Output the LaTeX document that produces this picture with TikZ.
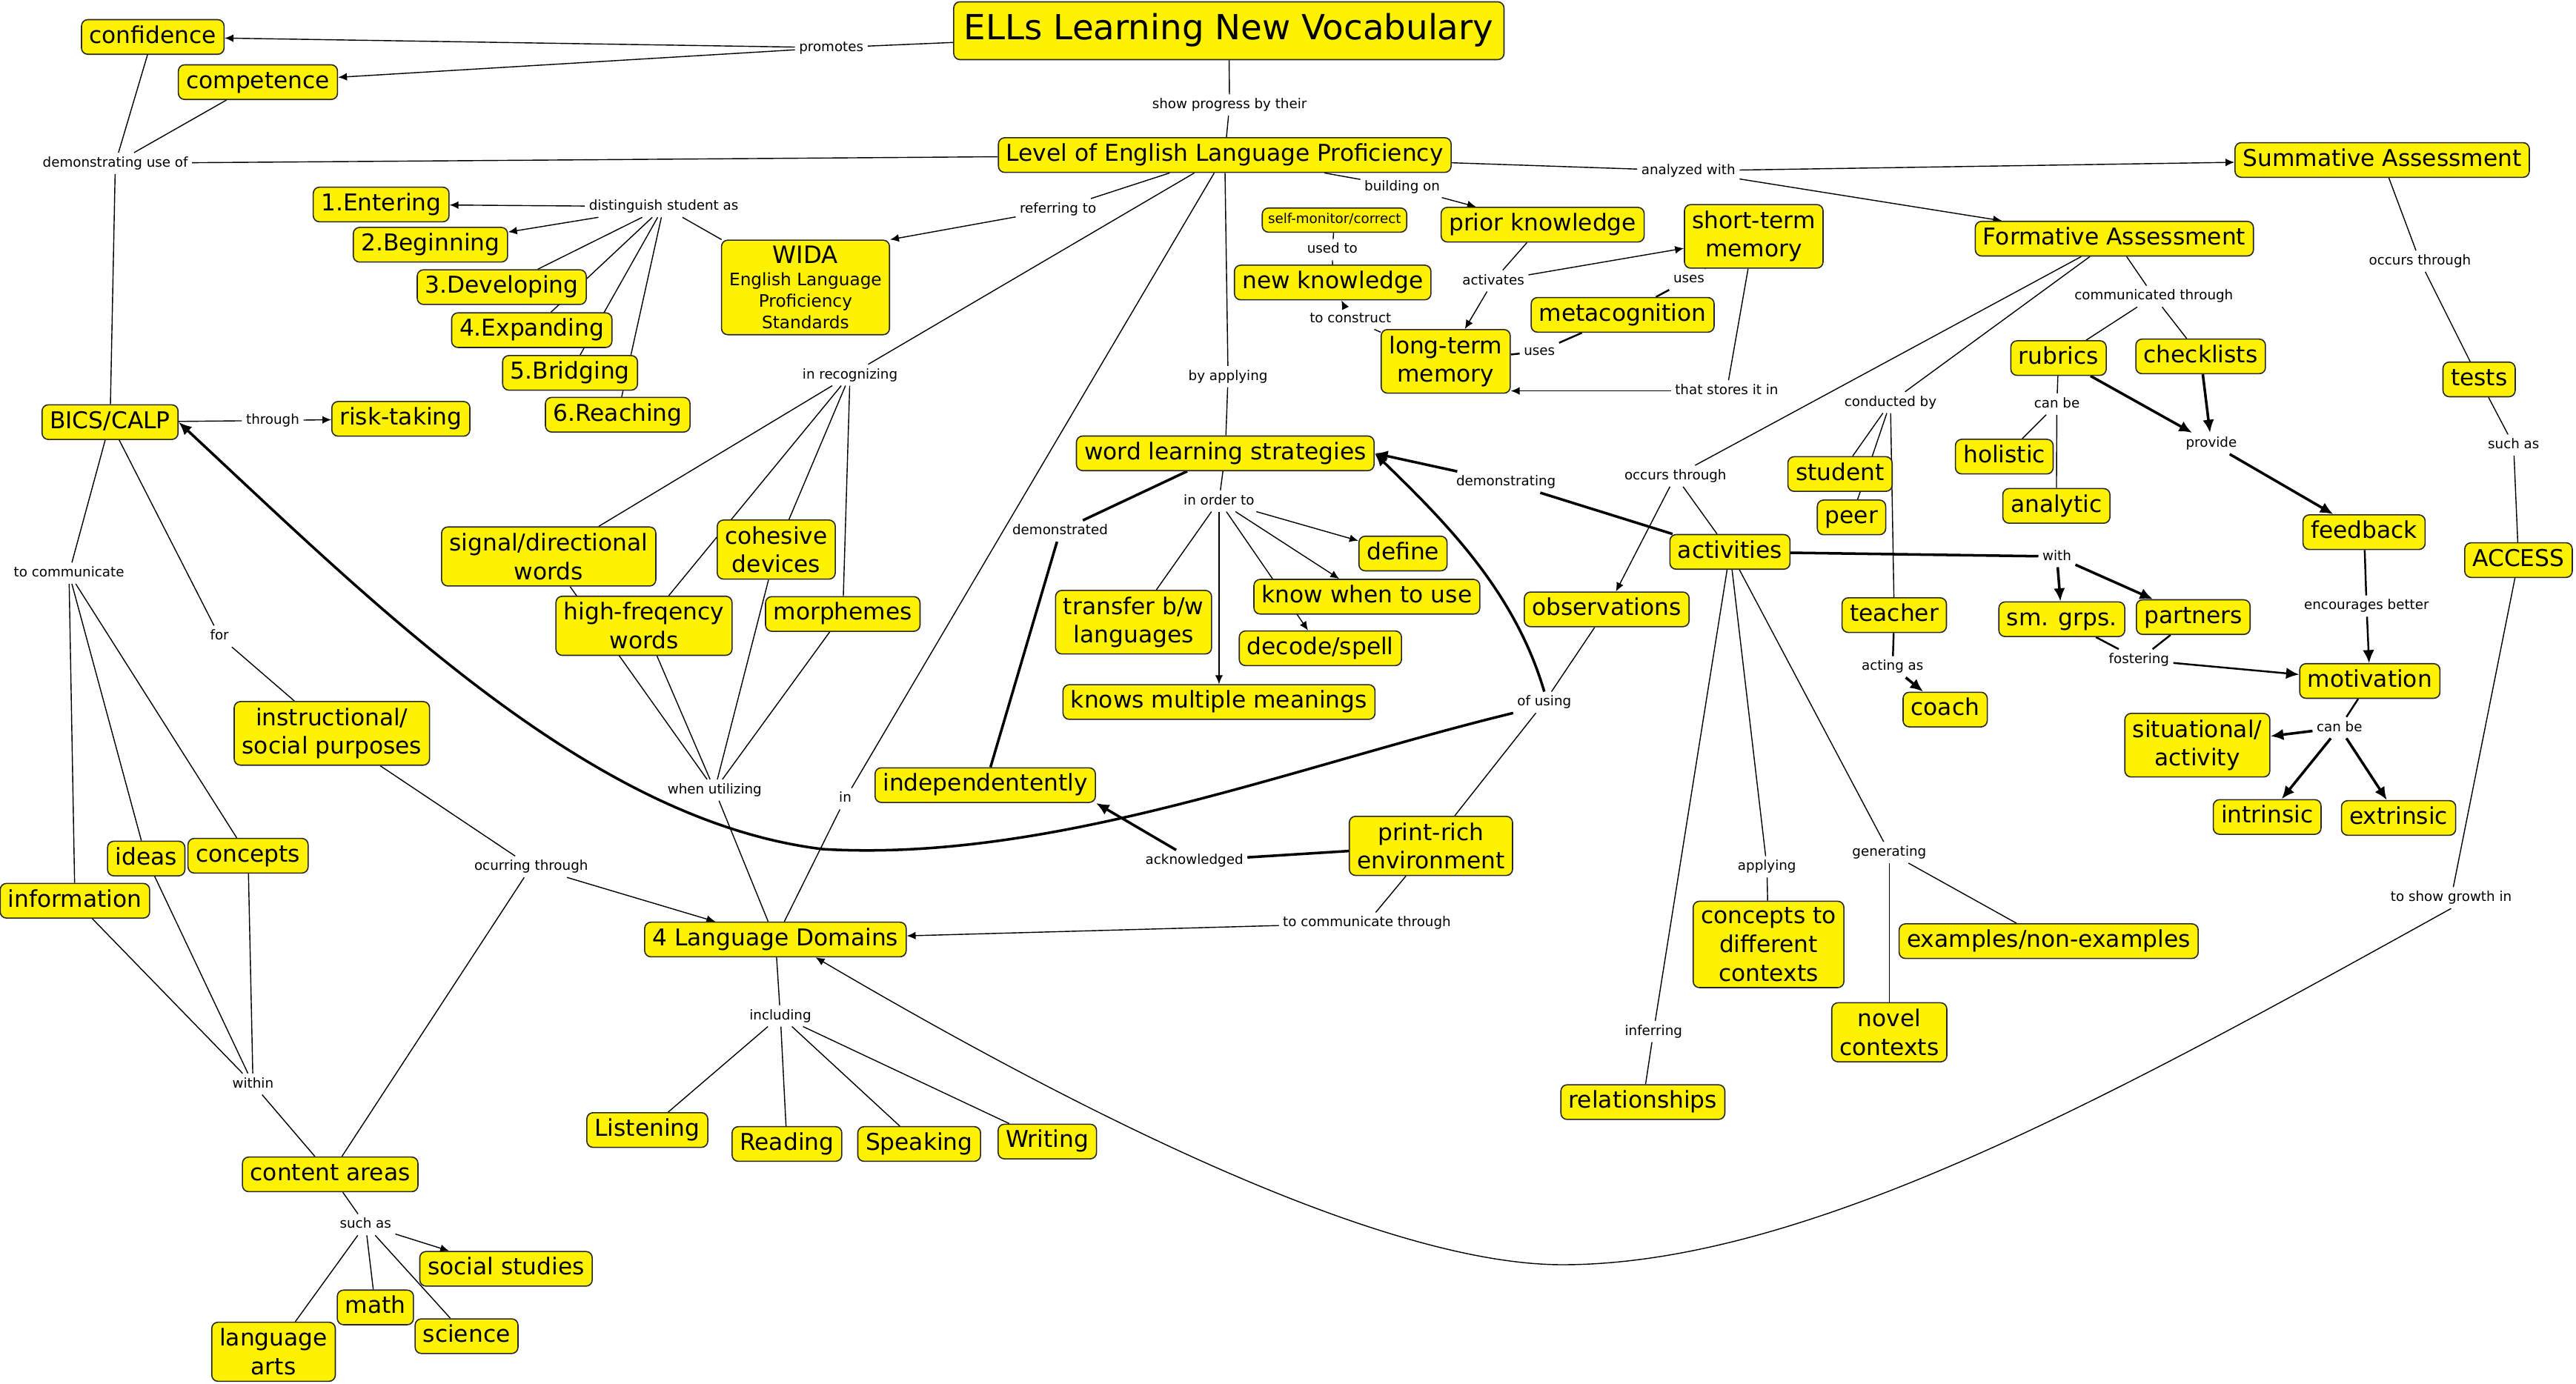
\documentclass[tikz,border=0pt]{standalone}
\usepackage{fontspec}
\setmainfont{DejaVu Sans}
\usetikzlibrary{arrows.meta}
\pgfdeclarelayer{bg}
\pgfsetlayers{bg,main}
\tikzset{
  cbase/.style={draw=black!85, line width=0.45pt, fill=yellow, rounded corners=2.4pt, inner xsep=3pt},
  cn/.style={cbase, inner ysep=2.4pt, font=\fontsize{8.9}{11}\selectfont, text height=6.6pt, text depth=1.9pt},
  cmulti/.style={cbase, inner ysep=2.4pt, align=center, font=\fontsize{8.9}{11}\selectfont},
  lk/.style={font=\fontsize{5.2}{6.2}\selectfont, inner sep=1.4pt, text height=3.9pt, text depth=1.1pt},
  ln/.style={line width=0.4pt},
  md/.style={line width=0.7pt},
  tk/.style={line width=1pt},
  arthin/.style={-{Latex[length=3.4pt,width=3pt]}},
  arthick/.style={-{Latex[length=5pt,width=4.4pt]}},
}
\begin{document}
\begin{tikzpicture}[x=0.022168cm,y=-0.022168cm]
\useasboundingbox (0,0) rectangle (1568,842.2);
\begin{pgfonlayer}{bg}
\fill[white] (0,0) rectangle (1568,842.2);
\end{pgfonlayer}
% ---------- concepts
\node[cbase, inner xsep=4pt, inner ysep=4.6pt, font=\fontsize{13.3}{15}\selectfont, text height=9.9pt, text depth=3.1pt] (title) at (748,18.7) {ELLs Learning New Vocabulary};
\node[cn] (conf) at (93,22.5) {confidence};
\node[cn] (comp) at (157,50) {competence};
\node[cn] (lep) at (745.5,94.4) {Level of English Language Proficiency};
\node[cn] (summ) at (1450,97.4) {Summative Assessment};
\node[cn] (form) at (1287,145.3) {Formative Assessment};
\node[cn] (ent) at (232,124.5) {1.Entering};
\node[cn] (beg) at (262,149) {2.Beginning};
\node[cn] (dev) at (305.4,174.8) {3.Developing};
\node[cn] (expd) at (323.7,201) {4.Expanding};
\node[cn] (bri) at (347,227) {5.Bridging};
\node[cn] (reach) at (376,252.5) {6.Reaching};
\node[cbase, align=center, inner ysep=2.3pt, font=\fontsize{6.6}{8.3}\selectfont] (wida) at (490.3,175) {{\fontsize{9.2}{10}\selectfont WIDA}\\English Language\\Proficiency\\Standards};
\node[cbase, inner xsep=2.2pt, inner ysep=2.1pt, font=\fontsize{5.2}{6.2}\selectfont, text height=3.9pt, text depth=1.2pt] (selfm) at (812.3,134) {self-monitor/correct};
\node[cn] (prior) at (939,136.8) {prior knowledge};
\node[cmulti] (stm) at (1067.5,143.9) {short-term\\memory};
\node[cn] (newk) at (811.2,172) {new knowledge};
\node[cn] (meta) at (987.7,191.7) {metacognition};
\node[cmulti] (ltm) at (880,220) {long-term\\memory};
\node[cn] (rub) at (1253,218) {rubrics};
\node[cn] (chk) at (1339.5,217) {checklists};
\node[cn] (tests) at (1509,231) {tests};
\node[cn] (bics) at (67,257) {BICS/CALP};
\node[cn] (risk) at (244,255) {risk-taking};
\node[cn] (wls) at (745.8,276) {word learning strategies};
\node[cn] (hol) at (1220,278) {holistic};
\node[cn] (ana) at (1251.7,308) {analytic};
\node[cn] (stu) at (1120,288.6) {student};
\node[cn] (peer) at (1127,315) {peer};
\node[cn] (feed) at (1439,324) {feedback};
\node[cn] (access) at (1533,341) {ACCESS};
\node[cmulti] (sig) at (334,338.8) {signal/directional\\words};
\node[cmulti] (coh) at (472.5,334.6) {cohesive\\devices};
\node[cn] (def) at (854,337) {define};
\node[cn] (act) at (1053,336) {activities};
\node[cmulti] (high) at (392,381) {high-freqency\\words};
\node[cn] (morph) at (513,373.8) {morphemes};
\node[cmulti] (trans) at (690,378.8) {transfer b/w\\languages};
\node[cn] (know) at (832,363.3) {know when to use};
\node[cn] (dec) at (803.7,394.7) {decode/spell};
\node[cn] (obs) at (978,371) {observations};
\node[cn] (teach) at (1153,374.5) {teacher};
\node[cn] (sm) at (1255,377) {sm. grps.};
\node[cn] (part) at (1335,375.7) {partners};
\node[cn] (mot) at (1442.5,414.6) {motivation};
\node[cn] (kmm) at (742,427.4) {knows multiple meanings};
\node[cn] (coach) at (1184,432) {coach};
\node[cmulti] (sit) at (1337.5,453.7) {situational/\\activity};
\node[cmulti] (instr) at (202,446.5) {instructional/\\social purposes};
\node[cn] (indep) at (599.7,478) {independentently};
\node[cn] (intr) at (1380,497.4) {intrinsic};
\node[cn] (extr) at (1460,498) {extrinsic};
\node[cmulti] (print) at (871,515) {print-rich\\environment};
\node[cn] (ideas) at (89,522.7) {ideas};
\node[cn] (conc) at (151,521) {concepts};
\node[cn] (info) at (45.6,548.4) {information};
\node[cmulti] (ctx) at (1076.5,575) {concepts to\\different\\contexts};
\node[cn] (exm) at (1247,573) {examples/non-examples};
\node[cn] (ld) at (472,572) {4 Language Domains};
\node[cmulti] (nov) at (1150,628.5) {novel\\contexts};
\node[cn] (rel) at (1000,671) {relationships};
\node[cn] (lis) at (394,688) {Listening};
\node[cn] (read) at (479,696.5) {Reading};
\node[cn] (spk) at (559.5,696.5) {Speaking};
\node[cn] (wri) at (637.5,695) {Writing};
\node[cn] (ca) at (201,715) {content areas};
\node[cn] (ss) at (308,772.5) {social studies};
\node[cn] (math) at (228.5,796) {math};
\node[cn] (sci) at (284,813.5) {science};
\node[cmulti] (la) at (166.5,823) {language\\arts};
% ---------- linking phrases
\node[lk] (l_prom) at (506,29) {promotes};
\node[lk] (l_show) at (748.4,63.9) {show progress by their};
\node[lk] (l_demuse) at (70.2,99.4) {demonstrating use of};
\node[lk] (l_dist) at (404,125.8) {distinguish student as};
\node[lk] (l_ref) at (644,127.4) {referring to};
\node[lk] (l_build) at (853.5,113.8) {building on};
\node[lk] (l_anal) at (1027.7,104) {analyzed with};
\node[lk] (l_used) at (811,152) {used to};
\node[lk] (l_act) at (909,171) {activates};
\node[lk] (l_uses1) at (1028,170) {uses};
\node[lk] (l_cons) at (822,194) {to construct};
\node[lk] (l_uses2) at (937,214) {uses};
\node[lk] (l_store) at (1051,238) {that stores it in};
\node[lk] (l_occ1) at (1473,159) {occurs through};
\node[lk] (l_comm) at (1311,180.4) {communicated through};
\node[lk] (l_recog) at (517.4,228.3) {in recognizing};
\node[lk] (l_apply) at (747.5,229.3) {by applying};
\node[lk] (l_cond) at (1150.7,245) {conducted by};
\node[lk] (l_canbe1) at (1252,246) {can be};
\node[lk] (l_thr) at (166,256) {through};
\node[lk] (l_prov) at (1346,270) {provide};
\node[lk] (l_such1) at (1530,271) {such as};
\node[lk] (l_demng) at (916.7,293.5) {demonstrating};
\node[lk] (l_occ2) at (1019.8,289.8) {occurs through};
\node[lk] (l_order) at (742,305) {in order to};
\node[lk] (l_demd) at (645.3,323.3) {demonstrated};
\node[lk] (l_with) at (1252,338.8) {with};
\node[lk] (l_tocomm) at (42,349) {to communicate};
\node[lk] (l_enc) at (1440.5,369) {encourages better};
\node[lk] (l_for) at (133.6,387.4) {for};
\node[lk] (l_fost) at (1302,401.7) {fostering};
\node[lk] (l_acting) at (1152,406) {acting as};
\node[lk] (l_using) at (940,427.6) {of using};
\node[lk] (l_canbe2) at (1424,443) {can be};
\node[lk] (l_util) at (435,481) {when utilizing};
\node[lk] (l_in) at (514.5,486.3) {in};
\node[lk] (l_gen) at (1150,519) {generating};
\node[lk] (l_ack) at (727,524) {acknowledged};
\node[lk] (l_ocur) at (323.3,527.7) {ocurring through};
\node[lk] (l_applying) at (1075.5,527.8) {applying};
\node[lk] (l_growth) at (1492,546.6) {to show growth in};
\node[lk] (l_tct) at (832,562) {to communicate through};
\node[lk] (l_incl) at (475,618.5) {including};
\node[lk] (l_inf) at (1006.5,628) {inferring};
\node[lk] (l_within) at (154,660) {within};
\node[lk] (l_such2) at (222.5,745.6) {such as};
\coordinate (cvA) at (501,517);
\coordinate (cvB) at (951,770);
% ---------- connectors
\begin{pgfonlayer}{bg}
\draw[ln] (title) -- (l_prom);
\draw[ln,arthin] (l_prom) -- (conf);
\draw[ln,arthin] (l_prom) -- (comp);
\draw[ln] (title) -- (l_show);
\draw[ln] (l_show) -- (lep);
\draw[ln] (conf) -- (l_demuse);
\draw[ln] (comp) -- (l_demuse);
\draw[ln] (lep) -- (l_demuse);
\draw[ln] (l_demuse) -- (bics);
\draw[ln] (wida) -- (l_dist);
\draw[ln,arthin] (l_dist) -- (ent);
\draw[ln,arthin] (l_dist) -- (beg);
\foreach \t in {dev,expd,bri,reach} \draw[ln] (l_dist) -- (\t);
\draw[ln] (lep) -- (l_ref);
\draw[ln,arthin] (l_ref) -- (wida.north east);
\draw[ln] (lep) -- (l_build);
\draw[ln,arthin] (l_build) -- (prior);
\draw[ln] (lep) -- (l_anal);
\draw[ln,arthin] (l_anal) -- (summ);
\draw[ln,arthin] (l_anal) -- (form);
\draw[ln] (selfm) -- (l_used);
\draw[ln] (l_used) -- (newk);
\draw[ln] (prior) -- (l_act);
\draw[ln,arthin] (l_act) -- (stm);
\draw[ln,arthin] (l_act) -- (ltm);
\draw[md] (stm) -- (l_uses1);
\draw[md] (l_uses1) -- (meta);
\draw[md] (meta) -- (l_uses2);
\draw[md] (l_uses2) -- (ltm);
\draw[ln] (ltm) -- (l_cons);
\draw[ln,arthin] (l_cons) -- (newk);
\draw[ln] (stm) -- (l_store);
\draw[ln,arthin] (l_store.west) -- (ltm.east |- l_store.west);
\draw[ln] (lep) -- (l_recog);
\foreach \t in {sig,high,coh,morph} \draw[ln] (l_recog) -- (\t);
\draw[ln] (lep) -- (l_apply);
\draw[ln] (l_apply) -- (wls);
\foreach \s in {sig,high,coh,morph} \draw[ln] (\s) -- (l_util);
\draw[ln] (l_util) -- (ld);
\draw[ln] (lep) -- (l_in);
\draw[ln] (l_in) -- (ld);
\draw[ln] (bics) -- (l_thr);
\draw[ln,arthin] (l_thr) -- (risk);
\draw[ln] (bics) -- (l_tocomm);
\foreach \t in {info,ideas,conc} \draw[ln] (l_tocomm) -- (\t);
\foreach \s in {info,ideas,conc} \draw[ln] (\s) -- (l_within);
\draw[ln] (l_within) -- (ca);
\draw[ln] (bics) -- (l_for);
\draw[ln] (l_for) -- (instr);
\draw[ln] (instr) -- (l_ocur);
\draw[ln,arthin] (l_ocur) -- (ld);
\draw[ln] (l_ocur) -- (ca);
\draw[ln] (ca) -- (l_such2);
\draw[ln,arthin] (l_such2) -- (ss);
\foreach \t in {math,sci,la} \draw[ln] (l_such2) -- (\t);
\draw[ln] (ld) -- (l_incl);
\foreach \t in {lis,read,spk,wri} \draw[ln] (l_incl) -- (\t);
\draw[ln] (wls) -- (l_order);
\draw[ln,arthin] (l_order) -- (def);
\draw[ln,arthin] (l_order) -- (know);
\draw[ln,arthin] (l_order) -- (dec);
\draw[ln,arthin] (l_order) -- (kmm);
\draw[ln] (l_order) -- (trans);
\draw[tk] (wls) -- (l_demd);
\draw[tk] (l_demd) -- (indep);
\draw[tk] (act) -- (l_demng);
\draw[tk,arthick] (l_demng) -- (wls.east);
\draw[ln] (form) -- (l_occ2);
\draw[ln,arthin] (l_occ2) -- (obs);
\draw[ln] (l_occ2) -- (act);
\draw[ln] (form) -- (l_cond);
\foreach \t in {stu,peer,teach} \draw[ln] (l_cond) -- (\t);
\draw[md] (teach) -- (l_acting);
\draw[tk,arthick] (l_acting) -- (coach);
\draw[ln] (obs) -- (l_using);
\draw[ln] (print) -- (l_using);
\draw[tk,arthick] (l_using.north) .. controls (922,360) and (880,318) .. (wls.east);
\draw[tk,arthick] (l_using.south west) .. controls (786,467) and (641,525) .. (cvA) .. controls (360,500) and (230,370) .. (bics.east);
\draw[ln] (summ) -- (l_occ1);
\draw[ln] (l_occ1) -- (tests);
\draw[ln] (tests) -- (l_such1);
\draw[ln] (l_such1) -- (access);
\draw[ln] (access) -- (l_growth);
\draw[ln,arthin] (l_growth.south) .. controls (1290,665) and (1101,770) .. (cvB) .. controls (840,770) and (653,675) .. (ld.-24);
\draw[ln] (print) -- (l_tct);
\draw[ln,arthin] (l_tct) -- (ld);
\draw[tk] (print) -- (l_ack);
\draw[tk,arthick] (l_ack) -- (indep.south east);
\draw[ln] (act) -- (l_applying);
\draw[ln] (l_applying) -- (ctx);
\draw[ln] (act) -- (l_gen);
\draw[ln] (l_gen) -- (exm);
\draw[ln] (l_gen) -- (nov);
\draw[ln] (act) -- (l_inf);
\draw[ln] (l_inf) -- (rel);
\draw[tk] (act) -- (l_with);
\draw[tk,arthick] (l_with) -- (sm);
\draw[tk,arthick] (l_with) -- (part);
\draw[md] (sm) -- (l_fost);
\draw[md] (part) -- (l_fost);
\draw[md,arthick] (l_fost) -- (mot);
\draw[ln] (form) -- (l_comm);
\draw[ln] (l_comm) -- (rub);
\draw[ln] (l_comm) -- (chk);
\draw[ln] (rub) -- (l_canbe1);
\draw[ln] (l_canbe1) -- (hol);
\draw[ln] (l_canbe1) -- (ana);
\draw[tk,arthick] (rub) -- (l_prov);
\draw[tk,arthick] (chk) -- (l_prov);
\draw[tk,arthick] (l_prov) -- (feed);
\draw[md] (feed) -- (l_enc);
\draw[md,arthick] (l_enc) -- (mot);
\draw[md] (mot) -- (l_canbe2);
\draw[tk,arthick] (l_canbe2) -- (sit);
\draw[tk,arthick] (l_canbe2) -- (intr);
\draw[tk,arthick] (l_canbe2) -- (extr);
\end{pgfonlayer}
\end{tikzpicture}
\end{document}
